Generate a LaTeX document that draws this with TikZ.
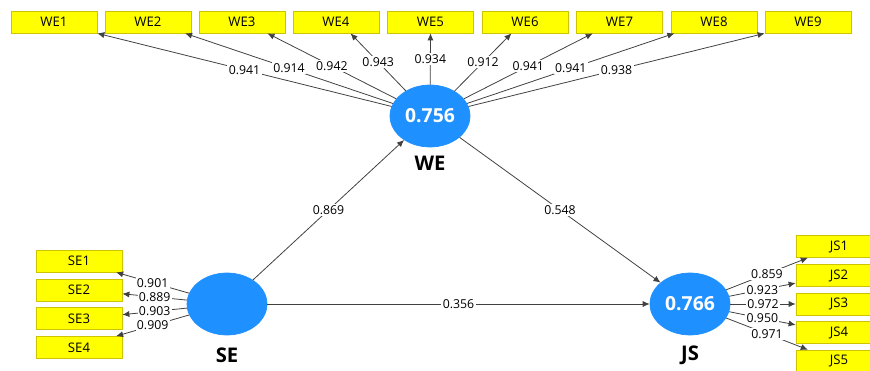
\documentclass[tikz,border=0pt]{standalone}
\usepackage{fontspec}
\setmainfont{Open Sans}
\usetikzlibrary{arrows.meta,shapes.geometric}

\definecolor{plsblue}{RGB}{30,144,255}
\definecolor{plsyellow}{RGB}{255,255,0}
\definecolor{plsedge}{RGB}{205,195,0}

\begin{document}
\begin{tikzpicture}[x=0.02cm, y=-0.02cm,
    ind/.style={draw=plsedge, fill=plsyellow, rectangle, minimum width=1.72cm, minimum height=0.44cm, inner sep=0pt, font=\fontsize{7.5}{9}\selectfont},
    lv/.style={ellipse, fill=plsblue, draw=plsblue, minimum width=1.6cm, minimum height=1.24cm, inner sep=0pt, text=white, font=\fontsize{11}{13}\selectfont\bfseries},
    lvname/.style={font=\fontsize{11.5}{13}\selectfont\bfseries},
    load/.style={-{Latex[length=4pt,width=3.5pt]}, draw=black!75, line width=0.45pt},
    val/.style={fill=white, inner sep=0.8pt, font=\fontsize{7}{8}\selectfont, pos=0.5}]
    \useasboundingbox (0,0) rectangle (870,371);

    % latent variables
    \node[lv] (WE) at (430,116) {0.756};
    \node[lv] (SE) at (227,304) {};
    \node[lv] (JS) at (690,304) {0.766};
    \node[lvname] (weT) at (430,163) {WE};
    \node[lvname] (seT) at (227,355) {SE};
    \node[lvname] (jsT) at (690,355) {JS};

    % indicators
    \node[ind] (we1) at (54,22) {WE1};
    \node[ind] (we2) at (148,22) {WE2};
    \node[ind] (we3) at (242,22) {WE3};
    \node[ind] (we4) at (336,22) {WE4};
    \node[ind] (we5) at (430.5,22) {WE5};
    \node[ind] (we6) at (525,22) {WE6};
    \node[ind] (we7) at (619.5,22) {WE7};
    \node[ind] (we8) at (714,22) {WE8};
    \node[ind] (we9) at (808,22) {WE9};

    \node[ind] (se1) at (79,261) {SE1};
    \node[ind] (se2) at (79,290) {SE2};
    \node[ind] (se3) at (79,318.5) {SE3};
    \node[ind] (se4) at (79,347.5) {SE4};

    \node[ind] (js1) at (839,246.5) {JS1};
    \node[ind] (js2) at (839,275.5) {JS2};
    \node[ind] (js3) at (839,304) {JS3};
    \node[ind] (js4) at (839,332.5) {JS4};
    \node[ind] (js5) at (839,361) {JS5};

    % outer loadings
    \draw[load] (WE) -- node[val] {0.941} (we1.south east);
    \draw[load] (WE) -- node[val] {0.914} (we2.-17);
    \draw[load] (WE) -- node[val] {0.942} (we3.-24);
    \draw[load] (WE) -- node[val] {0.943} (we4.-38);
    \draw[load] (WE) -- node[val] {0.934} (we5.south);
    \draw[load] (WE) -- node[val] {0.912} (we6.220);
    \draw[load] (WE) -- node[val] {0.941} (we7.203);
    \draw[load] (WE) -- node[val] {0.941} (we8.196);
    \draw[load] (WE) -- node[val] {0.938} (we9.south west);

    \draw[load] (SE) -- node[val] {0.901} (se1.-17);
    \draw[load] (SE) -- node[val] {0.889} (se2.-5);
    \draw[load] (SE) -- node[val] {0.903} (se3.5);
    \draw[load] (SE) -- node[val] {0.909} (se4.17);

    \draw[load] (JS) -- node[val] {0.859} (js1.200);
    \draw[load] (JS) -- node[val] {0.923} (js2.190);
    \draw[load] (JS) -- node[val] {0.972} (js3.west);
    \draw[load] (JS) -- node[val] {0.950} (js4.170);
    \draw[load] (JS) -- node[val] {0.971} (js5.160);

    % path coefficients
    \draw[load] (SE) -- node[val] {0.869} (WE);
    \draw[load] (WE) -- node[val] {0.548} (JS);
    \draw[load] (SE) -- node[val] {0.356} (JS);
\end{tikzpicture}
\end{document}
